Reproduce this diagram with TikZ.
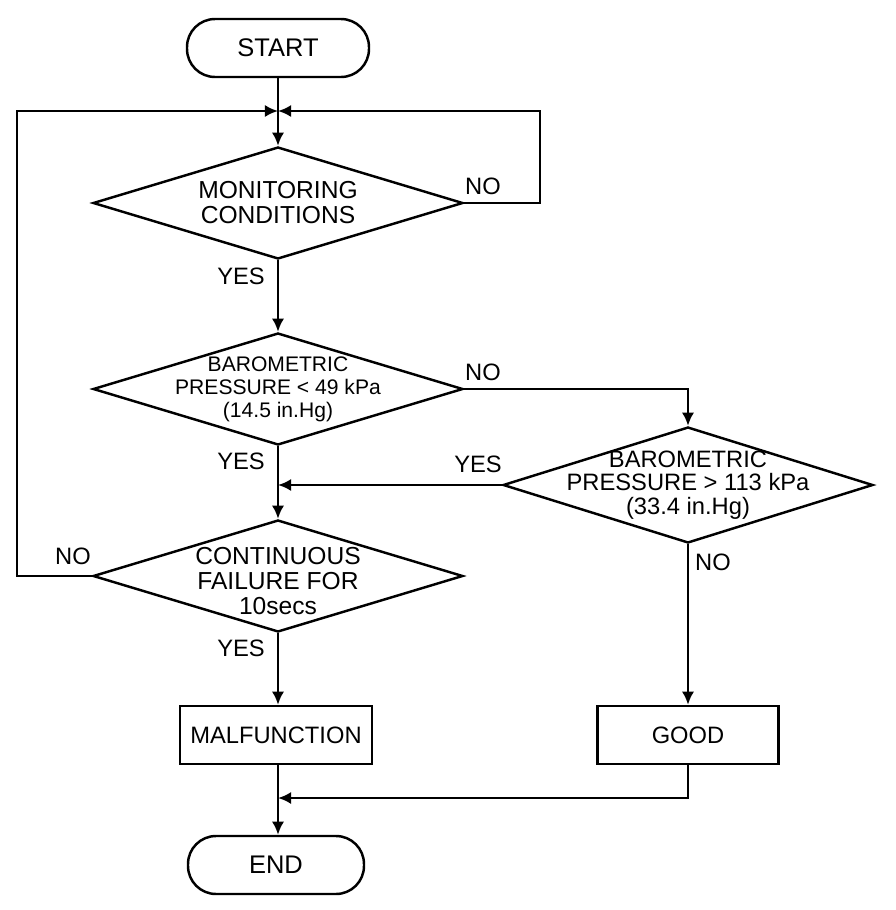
\documentclass[tikz,border=0pt]{standalone}
\usepackage{fontspec}
\setmainfont{Liberation Sans}
\usetikzlibrary{shapes.geometric,arrows.meta}

\tikzset{
  flow/.style={line width=1.4pt},
  arr/.style={flow,-{Latex[length=7.5pt,width=7pt]}},
  term/.style={draw,flow,rectangle,rounded corners=0.56cm,minimum height=1.16cm,font=\fontsize{14.5}{15}\selectfont},
  proc/.style={draw,flow,rectangle,minimum height=1.16cm,font=\fontsize{13.5}{14}\selectfont},
  decide/.style={draw,flow,diamond,inner sep=0pt,minimum width=7.4cm,minimum height=2.24cm},
  dtext/.style={align=center,inner sep=0pt},
  lbl/.style={font=\fontsize{13.5}{14}\selectfont}
}

\begin{document}
\begin{tikzpicture}[x=0.02cm,y=-0.02cm]
\useasboundingbox (0,0) rectangle (896,910);

\node[term,minimum width=3.64cm] (start) at (278,48) {START};
\node[decide] (mon) at (278,203) {};
\node[decide] (bplo) at (278,389) {};
\node[decide,minimum height=2.32cm] (bphi) at (688,485) {};
\node[decide] (cont) at (278,576) {};
\node[proc,minimum width=3.84cm] (malf) at (276,735) {MALFUNCTION};
\node[proc,minimum width=3.62cm] (good) at (688,735) {GOOD};
\node[term,minimum width=3.52cm] (end) at (276,865) {END};

% texts inside the diamonds
\node[dtext,font=\fontsize{14}{14.2}\selectfont] (mon-t) at (mon) {MONITORING\\CONDITIONS};
\node[dtext,font=\fontsize{12}{13}\selectfont] (bplo-t) at (bplo) {BAROMETRIC\\PRESSURE < 49 kPa\\(14.5 in.Hg)};
\node[dtext,font=\fontsize{13.5}{13.5}\selectfont] (bphi-t) at (bphi) {BAROMETRIC\\PRESSURE > 113 kPa\\(33.4 in.Hg)};
\node[dtext,font=\fontsize{14}{14.2}\selectfont] (cont-t) at ([yshift=-3]cont) {CONTINUOUS\\FAILURE FOR\\10secs};

\coordinate (join) at (278,111);
\coordinate (rloop) at (540,111);
\coordinate (lloop) at (17,111);
\coordinate (merge) at (278,798);

% main line
\draw[arr] (start) -- (mon);
\draw[arr] (mon) -- (bplo);
\draw[arr] (bplo) -- (cont);
\draw[arr] (cont) -- (cont.south |- malf.north);
\draw[arr] (malf.south -| merge) -- (merge |- end.north);

% loops back to the top
\draw[arr] (mon.east) -| (rloop) -- (join);
\draw[arr] (cont.west) -| (lloop) -- (join);

% right branch
\draw[arr] (bplo.east) -| (bphi.north);
\draw[arr] (bphi.west) -- (bphi.west -| bplo.south);
\draw[arr] (bphi) -- (good);
\draw[arr] (good.south) |- (merge);

\node[lbl] (l1) at (483,186) {NO};
\node[lbl] (l2) at (241,276) {YES};
\node[lbl] (l3) at (483,372) {NO};
\node[lbl] (l4) at (241,461) {YES};
\node[lbl] (l5) at (478,464) {YES};
\node[lbl] (l6) at (713,562) {NO};
\node[lbl] (l7) at (73,556) {NO};
\node[lbl] (l8) at (241,648) {YES};

\end{tikzpicture}
\end{document}
